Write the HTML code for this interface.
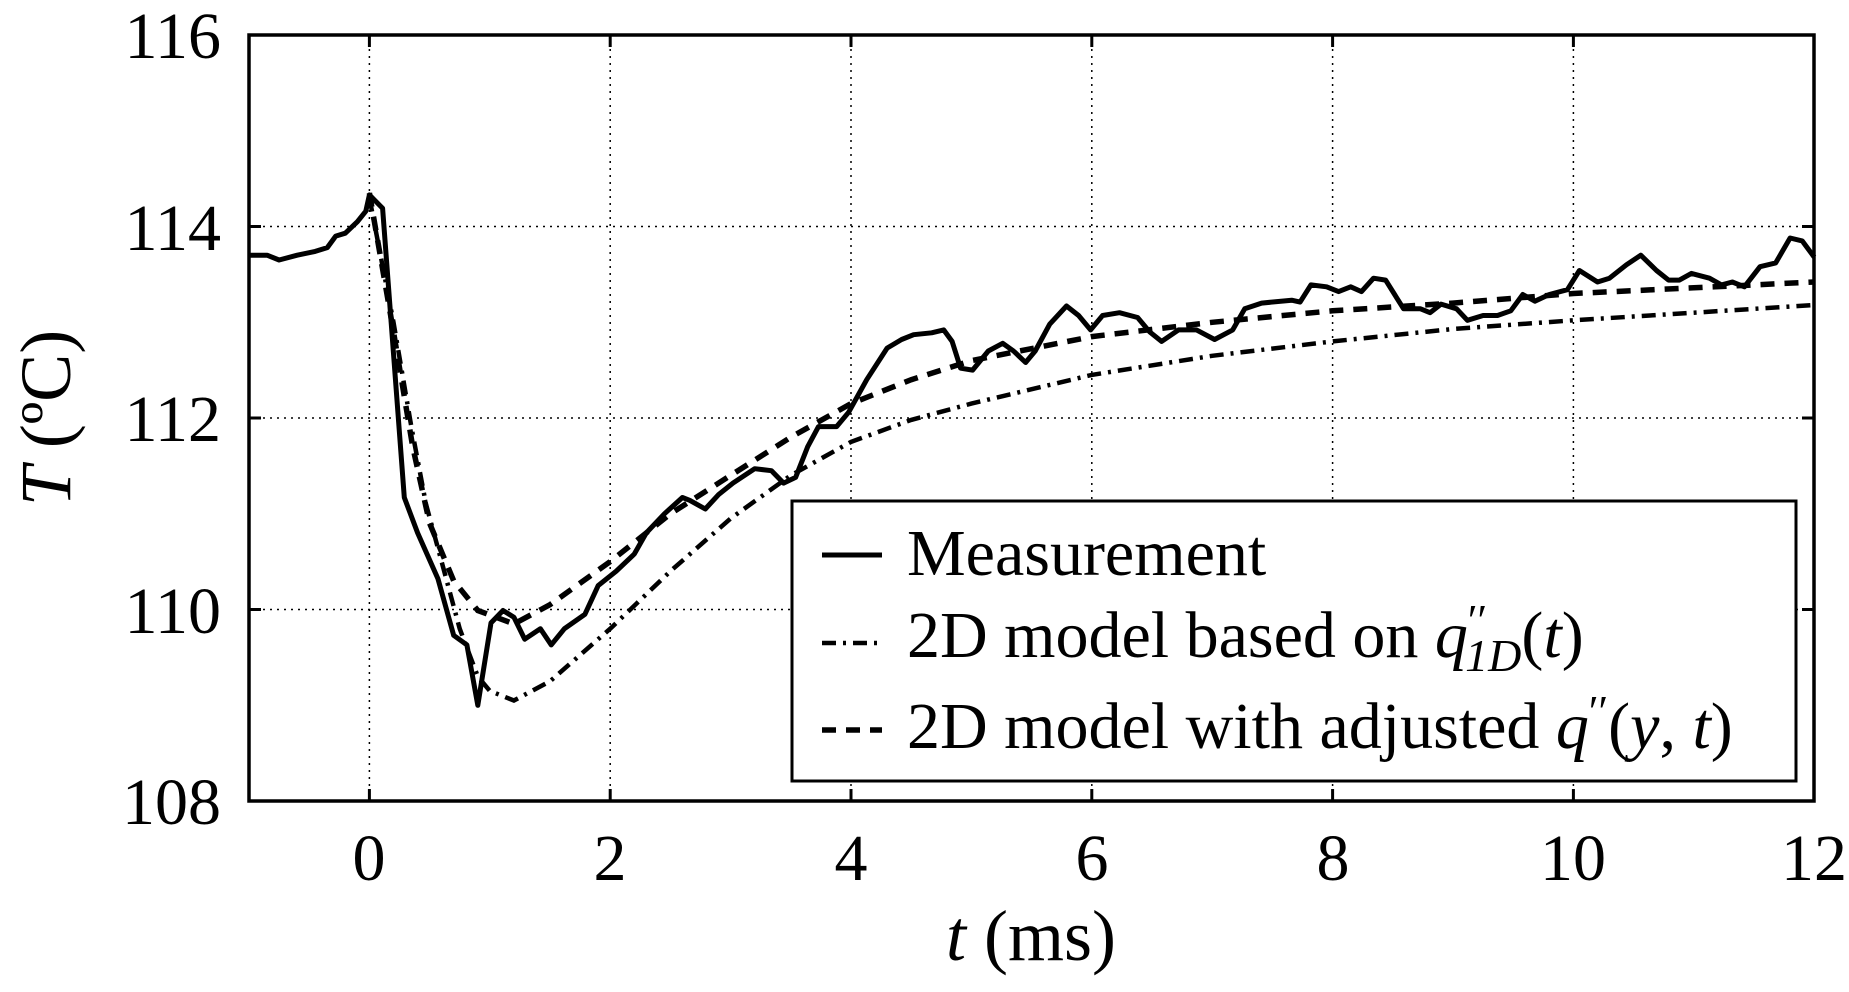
<!DOCTYPE html>
<html><head><meta charset="utf-8"><style>
body{margin:0;background:#fff;}
svg text{font-family:"Liberation Serif",serif;fill:#000;}
</style></head><body>
<svg id="s" width="1849" height="987" xmlns="http://www.w3.org/2000/svg">
<g id="grid" stroke="#000" stroke-width="1.5" stroke-dasharray="2,5"></g>
<g id="ticks" stroke="#000" stroke-width="3"></g>
<path id="meas" fill="none" stroke="#000" stroke-width="5" stroke-linejoin="round"/>
<path id="dd" fill="none" stroke="#000" stroke-width="4.5" stroke-dasharray="14,7,3,7"/>
<path id="da" fill="none" stroke="#000" stroke-width="5.5" stroke-dasharray="14,10"/>
<rect x="249" y="35" width="1565" height="766" fill="none" stroke="#000" stroke-width="3.5"/>
<g font-size="66" text-anchor="end">
<text x="221" y="58">116</text><text x="221" y="250">114</text><text x="221" y="441">112</text><text x="221" y="633">110</text><text x="221" y="824">108</text>
</g>
<g font-size="66" text-anchor="middle">
<text x="369" y="880">0</text><text x="610" y="880">2</text><text x="851" y="880">4</text><text x="1092" y="880">6</text><text x="1333" y="880">8</text><text x="1573" y="880">10</text><text x="1814" y="880">12</text>
</g>
<text x="1031" y="960" font-size="72" text-anchor="middle"><tspan font-style="italic">t</tspan> (ms)</text>
<text transform="translate(70,418) rotate(-90)" font-size="72" text-anchor="middle"><tspan font-style="italic">T</tspan> (ºC)</text>
<rect x="792" y="501" width="1004" height="280" fill="#fff" stroke="#000" stroke-width="3"/>
<line x1="822" y1="555" x2="882" y2="555" stroke="#000" stroke-width="5"/>
<line x1="822" y1="643" x2="882" y2="643" stroke="#000" stroke-width="4.5" stroke-dasharray="14,7,3,7"/>
<line x1="822" y1="730" x2="882" y2="730" stroke="#000" stroke-width="5.5" stroke-dasharray="14,10"/>
<g font-size="66">
<text x="907" y="575">Measurement</text>
<text x="907" y="657">2D model based on <tspan font-style="italic">q</tspan><tspan font-size="44" dy="-22">′′</tspan><tspan font-size="46" dy="36" dx="-22" font-style="italic">1D</tspan><tspan dy="-14">(</tspan><tspan font-style="italic">t</tspan>)</text>
<text x="907" y="748">2D model with adjusted <tspan font-style="italic">q</tspan><tspan font-size="44" dy="-22">′′</tspan><tspan dy="22">(</tspan><tspan font-style="italic">y</tspan>, <tspan font-style="italic">t</tspan>)</text>
</g>
</svg>
<script>
function X(t){return 369.4+t*120.4;}
function Y(T){return 801-(T-108)*95.75;}
function P(a){return a.map((p,i)=>(i?'L':'M')+X(p[0]).toFixed(1)+','+Y(p[1]).toFixed(1)).join(' ');}
var g=document.getElementById('grid'),tk=document.getElementById('ticks'),h='',k='';
[0,2,4,6,8,10].forEach(t=>{h+=`<line x1="${X(t)}" y1="35" x2="${X(t)}" y2="801"/>`;k+=`<line x1="${X(t)}" y1="801" x2="${X(t)}" y2="789"/><line x1="${X(t)}" y1="35" x2="${X(t)}" y2="47"/>`;});
[110,112,114].forEach(T=>{h+=`<line x1="249" y1="${Y(T)}" x2="1814" y2="${Y(T)}"/>`;k+=`<line x1="249" y1="${Y(T)}" x2="261" y2="${Y(T)}"/><line x1="1802" y1="${Y(T)}" x2="1814" y2="${Y(T)}"/>`;});
g.innerHTML=h;tk.innerHTML=k;
var m=[[-1,113.7],[-0.85,113.7],[-0.75,113.65],[-0.6,113.7],[-0.45,113.74],[-0.35,113.78],[-0.28,113.9],[-0.2,113.93],[-0.1,114.05],[-0.03,114.16],[0,114.33],[0.11,114.19],[0.29,111.17],[0.4,110.8],[0.57,110.32],[0.7,109.73],[0.81,109.63],[0.9,109.0],[1.01,109.86],[1.11,109.99],[1.2,109.92],[1.29,109.69],[1.42,109.8],[1.51,109.63],[1.62,109.8],[1.79,109.95],[1.9,110.25],[2.05,110.4],[2.2,110.58],[2.3,110.8],[2.45,111.0],[2.6,111.17],[2.66,111.14],[2.79,111.05],[2.9,111.2],[3.02,111.32],[3.2,111.47],[3.34,111.45],[3.44,111.32],[3.54,111.38],[3.64,111.7],[3.73,111.91],[3.88,111.91],[3.98,112.06],[4.13,112.4],[4.3,112.73],[4.42,112.82],[4.52,112.87],[4.67,112.89],[4.77,112.92],[4.84,112.8],[4.91,112.52],[5.01,112.5],[5.14,112.7],[5.26,112.78],[5.35,112.7],[5.45,112.58],[5.53,112.7],[5.65,112.98],[5.79,113.17],[5.89,113.07],[5.99,112.92],[6.09,113.07],[6.23,113.1],[6.38,113.05],[6.48,112.9],[6.58,112.8],[6.72,112.92],[6.87,112.92],[7.02,112.82],[7.17,112.92],[7.27,113.14],[7.41,113.2],[7.66,113.23],[7.73,113.21],[7.82,113.39],[7.95,113.37],[8.05,113.32],[8.15,113.37],[8.24,113.32],[8.34,113.46],[8.44,113.44],[8.59,113.14],[8.73,113.14],[8.81,113.1],[8.9,113.19],[9.03,113.14],[9.12,113.02],[9.25,113.07],[9.37,113.07],[9.48,113.12],[9.58,113.29],[9.68,113.22],[9.8,113.29],[9.95,113.34],[10.05,113.54],[10.2,113.42],[10.3,113.46],[10.44,113.6],[10.56,113.7],[10.69,113.54],[10.79,113.44],[10.88,113.44],[10.98,113.51],[11.13,113.46],[11.23,113.39],[11.32,113.42],[11.42,113.37],[11.55,113.58],[11.68,113.62],[11.8,113.88],[11.9,113.85],[12,113.68]];
var da=[[0,114.35],[0.2,112.9],[0.36,111.7],[0.5,110.9],[0.7,110.3],[0.9,109.99],[1.2,109.85],[1.5,110.05],[2,110.5],[2.5,111.0],[3,111.4],[3.5,111.8],[4,112.15],[4.5,112.4],[5,112.6],[6,112.85],[7,113.0],[8,113.12],[9,113.2],[10,113.3],[11,113.36],[12,113.42]];
var dd=[[0,114.3],[0.2,113.0],[0.35,111.9],[0.47,111.1],[0.6,110.5],[0.75,109.8],[0.9,109.3],[1.0,109.15],[1.2,109.05],[1.5,109.25],[2,109.8],[2.5,110.4],[3,110.95],[3.5,111.4],[4,111.75],[4.5,111.98],[5,112.15],[6,112.45],[7,112.65],[8,112.8],[9,112.93],[10,113.02],[11,113.1],[12,113.18]];
document.getElementById('meas').setAttribute('d',P(m));
document.getElementById('da').setAttribute('d',P(da));
document.getElementById('dd').setAttribute('d',P(dd));
</script>
</body></html>
